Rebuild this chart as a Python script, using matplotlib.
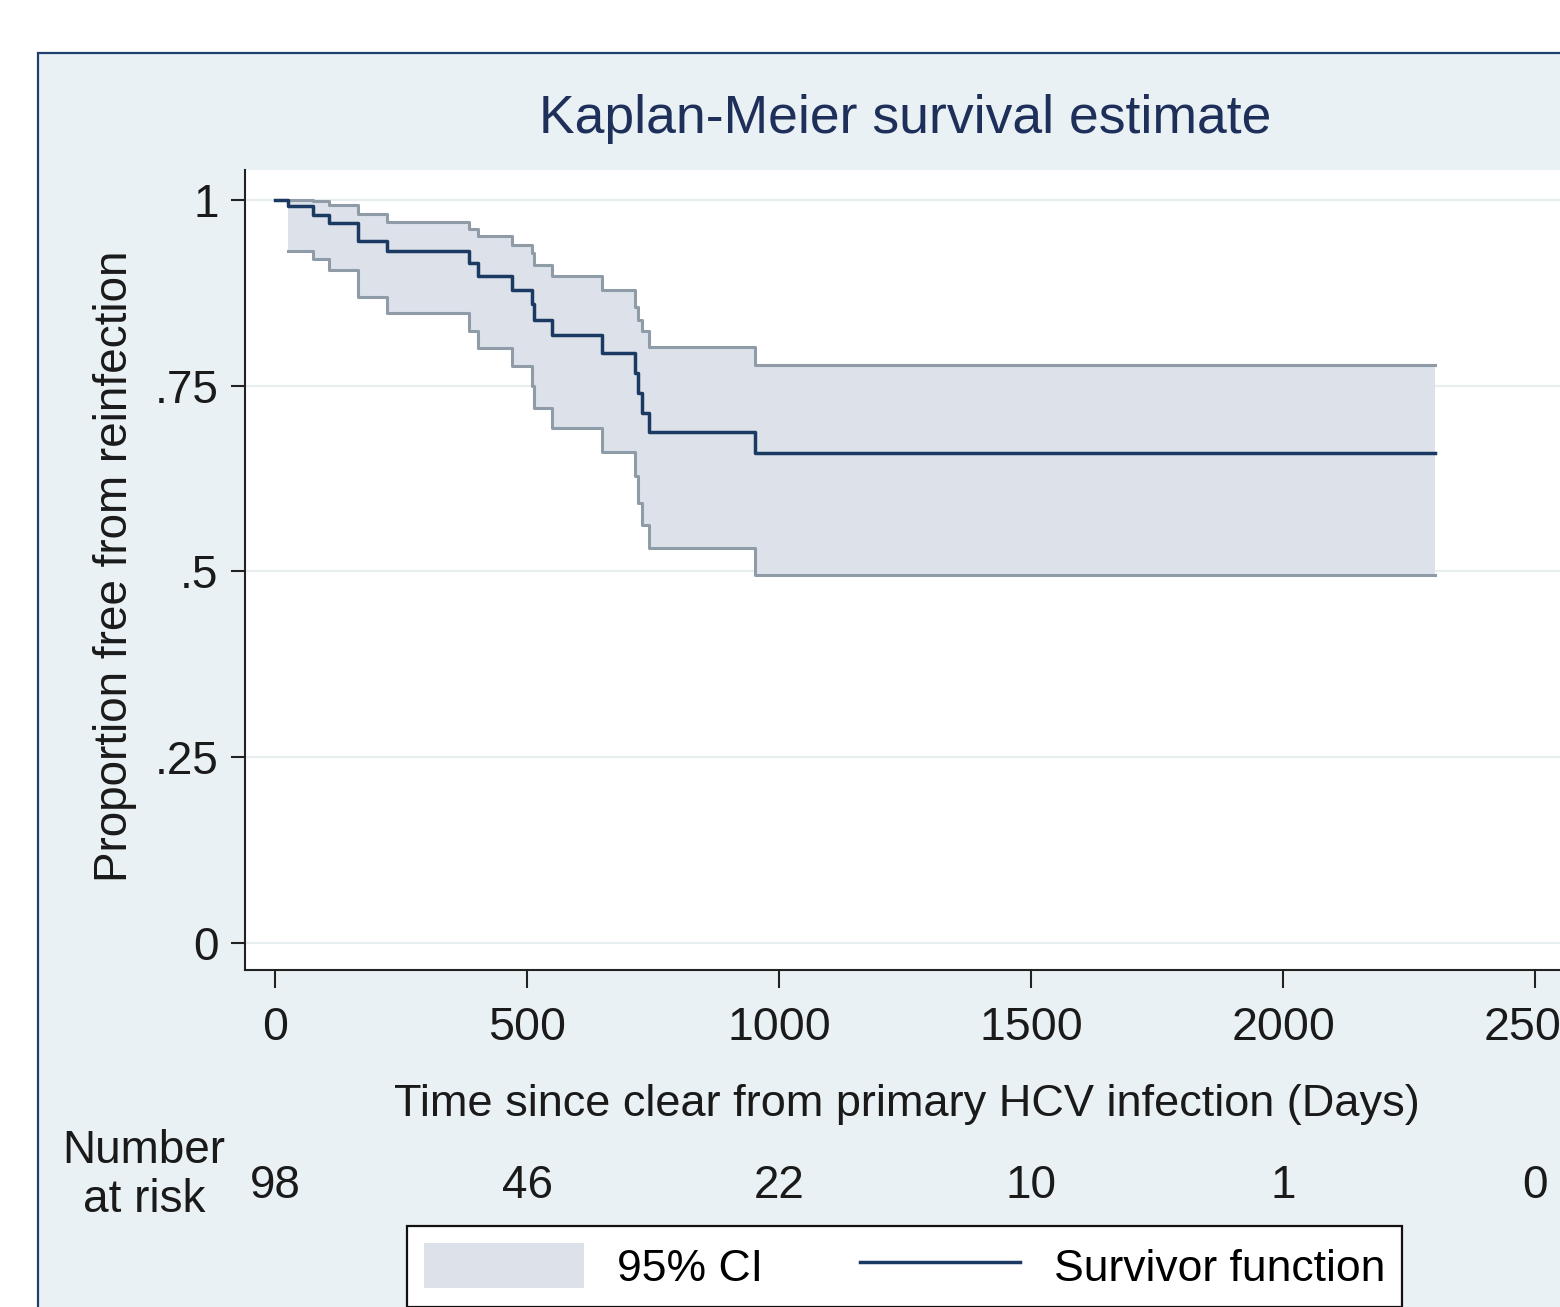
import matplotlib
matplotlib.use("Agg")
import matplotlib.pyplot as plt
import matplotlib.transforms as mtransforms
from matplotlib.patches import Rectangle, Patch
from matplotlib.lines import Line2D

plt.rcParams['font.family'] = ['Liberation Sans', 'DejaVu Sans']

# ---------------- data ----------------
time_days = [0, 26, 75, 107, 165, 222, 385, 403, 470, 509, 513, 549, 648,
             714, 720, 728, 742, 952, 2302]
survival = [1.000, 0.991, 0.980, 0.969, 0.944, 0.931, 0.915, 0.897, 0.879,
            0.860, 0.838, 0.818, 0.794, 0.767, 0.740, 0.713, 0.687, 0.659, 0.659]
# CI starts at the first event time
ci_time = time_days[1:]
ci_lower = [0.931, 0.920, 0.905, 0.869, 0.848, 0.823, 0.800, 0.776,
            0.749, 0.720, 0.693, 0.661, 0.628, 0.592, 0.563, 0.531, 0.495, 0.495]
ci_upper = [0.999, 0.998, 0.993, 0.981, 0.970, 0.960, 0.951, 0.939,
            0.928, 0.912, 0.897, 0.879, 0.856, 0.838, 0.823, 0.802, 0.778, 0.778]

x_ticks = [0, 500, 1000, 1500, 2000, 2500]
x_ticklabels = ["0", "500", "1000", "1500", "2000", "2500"]
y_ticks = [0, 0.25, 0.5, 0.75, 1]
y_ticklabels = ["0", ".25", ".5", ".75", "1"]
risk_times = [0, 500, 1000, 1500, 2000, 2500]
n_at_risk = [98, 46, 22, 10, 1, 0]

title = "Kaplan-Meier survival estimate"
xlabel = "Time since clear from primary HCV infection (Days)"
ylabel = "Proportion free from reinfection"

# ---------------- styling ----------------
W, H = 1560, 1307
DPI = 100
region_bg = "#EAF1F4"
frame_col = "#1F3F6E"
fill_col = "#DCE1EA"
ci_line_col = "#8F9CA8"
surv_col = "#1A3A64"
grid_col = "#E6EEF0"
text_col = "#1a1a1a"

fig = plt.figure(figsize=(W / DPI, H / DPI), dpi=DPI, facecolor="white")

def fx(px):
    return px / W

def fy(py):
    return 1 - py / H

# outer graph region (extends past the right/bottom edges like the reference crop)
fig.add_artist(Rectangle((fx(38), -0.1), 2.0, fy(53) + 0.1,
                         transform=fig.transFigure, facecolor=region_bg,
                         edgecolor=frame_col, linewidth=1.6, zorder=-5))

# axes: left spine at x=245px, bottom at y=970px, top at y=170px
xmin, xmax = -60, 2600
px_per_day = 0.504
ax_left, ax_right = 245, 245 + (xmax - xmin) * px_per_day
ax_top, ax_bottom = 170, 970
ax = fig.add_axes([fx(ax_left), fy(ax_bottom), fx(ax_right - ax_left),
                   (ax_bottom - ax_top) / H])
ax.set_facecolor("white")
ax.set_xlim(xmin, xmax)
ax.set_ylim(-0.036, 1.040)

for s in ["top", "right"]:
    ax.spines[s].set_visible(False)
for s in ["left", "bottom"]:
    ax.spines[s].set_linewidth(1.5)
    ax.spines[s].set_color("#222222")

ax.set_yticks(y_ticks)
ax.set_yticklabels(y_ticklabels)
ax.set_xticks(x_ticks)
ax.set_xticklabels(x_ticklabels)
ax.tick_params(axis="y", direction="out", length=10, width=1.5, pad=9,
               labelsize=33, colors="#222222", labelcolor=text_col)
ax.tick_params(axis="x", direction="out", length=13, width=1.5, pad=13,
               labelsize=33.5, colors="#222222", labelcolor=text_col)
ax.yaxis.grid(True, color=grid_col, linewidth=1.6, zorder=0)
ax.set_axisbelow(True)

# CI band and survivor function
ax.fill_between(ci_time, ci_lower, ci_upper, step="post", color=fill_col,
                linewidth=0, zorder=1)
ax.step(ci_time, ci_lower, where="post", color=ci_line_col, linewidth=2.2, zorder=2)
ax.step(ci_time, ci_upper, where="post", color=ci_line_col, linewidth=2.2, zorder=2)
ax.step(time_days, survival, where="post", color=surv_col, linewidth=2.5, zorder=3)

# labels
ax.set_xlabel(xlabel, fontsize=32.5, color=text_col)
ax.xaxis.set_label_coords(fx(907), fy(1084), transform=fig.transFigure)
ax.set_ylabel(ylabel, fontsize=33, color=text_col)
ax.yaxis.set_label_coords(fx(137), fy(566), transform=fig.transFigure)

fig.text(fx(905), fy(133), title, fontsize=38.5, color="#1E2F5A",
         ha="center", va="baseline")

# number at risk
risk_tr = mtransforms.blended_transform_factory(ax.transData, fig.transFigure)
for t, n in zip(risk_times, n_at_risk):
    ax.text(t, fy(1198), str(n), transform=risk_tr, fontsize=33,
            ha="center", va="baseline", color=text_col, clip_on=False)
fig.text(fx(144), fy(1212), "Number\nat risk", fontsize=33, ha="center",
         va="baseline", multialignment="center", color=text_col,
         linespacing=1.15)

# legend
handles = [Patch(facecolor=fill_col, edgecolor="none", label="95% CI"),
           Line2D([], [], color=surv_col, linewidth=2.5, label="Survivor function")]
leg_h = 0.05
leg = fig.legend(handles=handles, loc="upper left",
                 bbox_to_anchor=(fx(407), fy(1226) - leg_h, fx(1402) - fx(407), leg_h),
                 mode="expand", ncol=2, fontsize=32, frameon=True,
                 fancybox=False, edgecolor="#111111", facecolor="white",
                 framealpha=1, borderpad=0.38, handlelength=3.6,
                 handleheight=1.2, handletextpad=0.75, columnspacing=1.6,
                 borderaxespad=0)
leg.get_frame().set_linewidth(1.6)

fig.savefig("out.png", dpi=DPI, facecolor="white")
